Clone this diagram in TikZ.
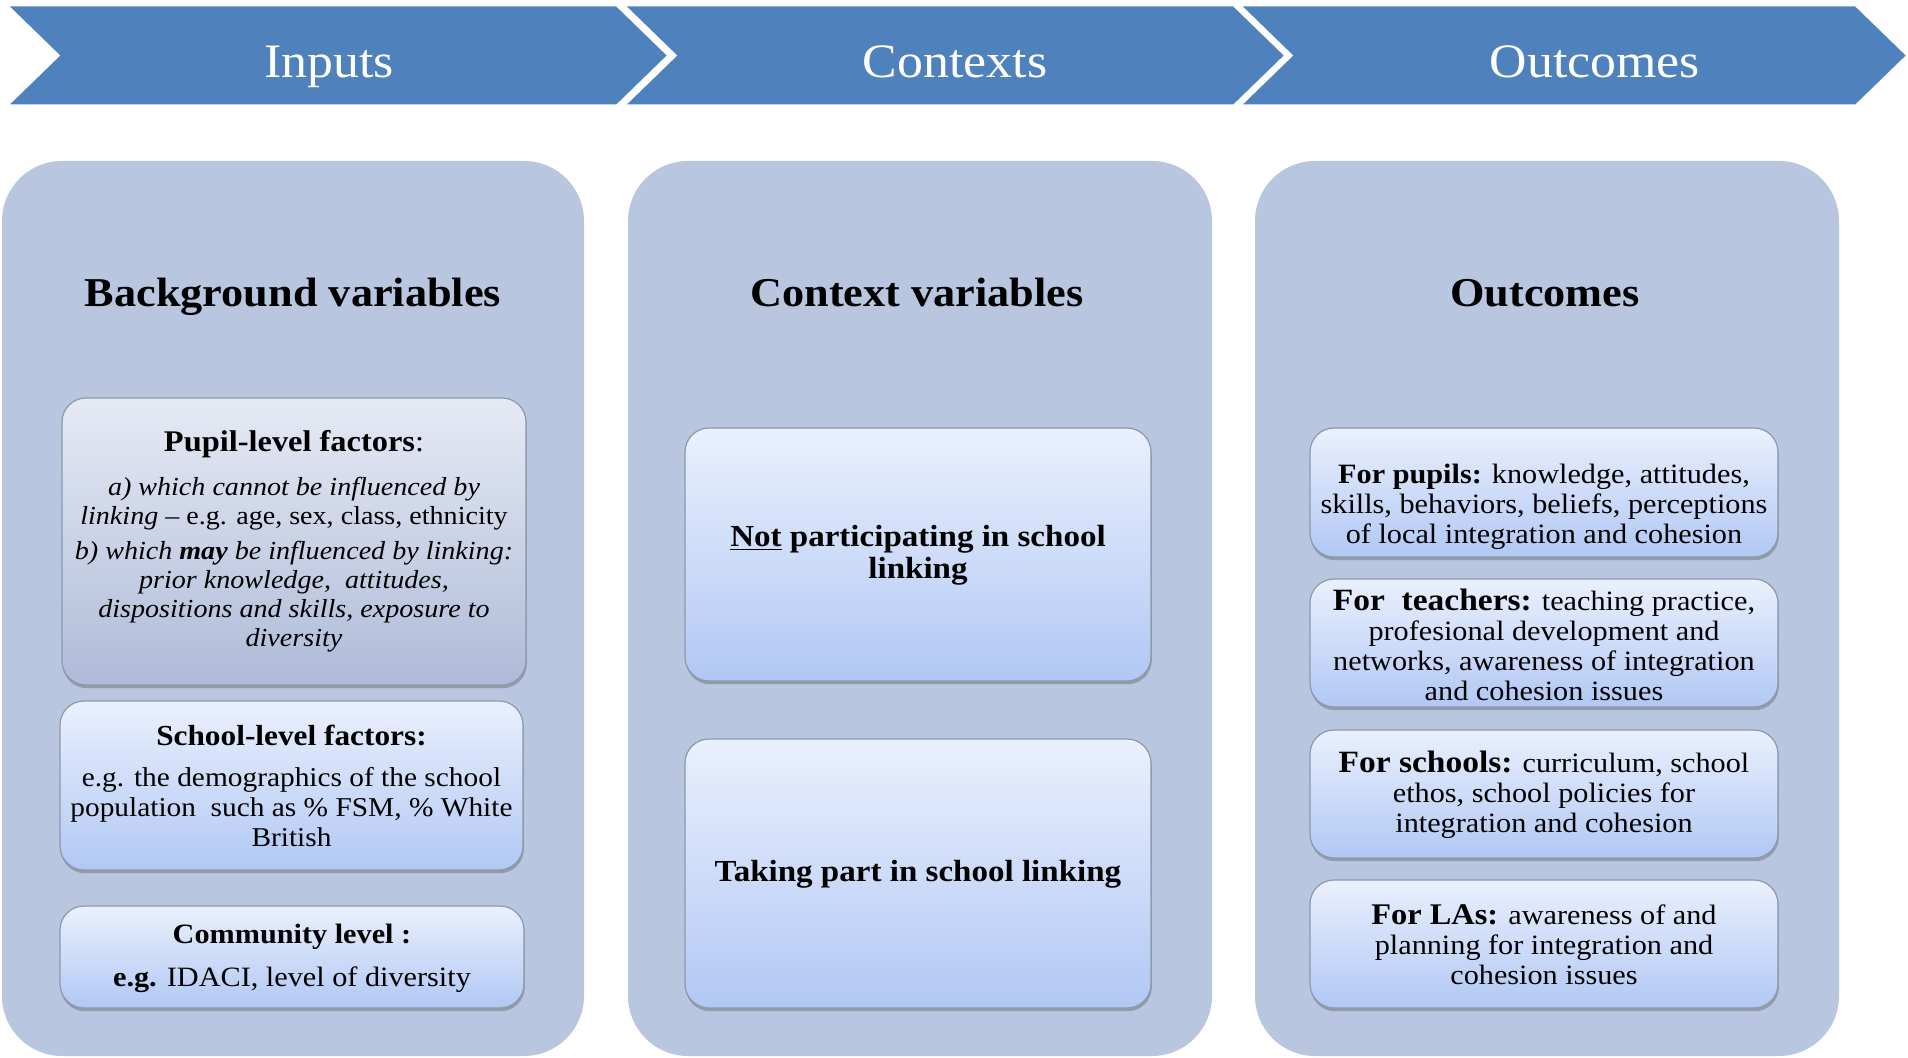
\documentclass[tikz,border=0pt]{standalone}
\usepackage{fontspec}
\setmainfont[FakeStretch=1.08]{Liberation Serif}
\usetikzlibrary{shadows}
\definecolor{chev}{HTML}{4F81BD}
\definecolor{panelc}{HTML}{B9C6DF}
\definecolor{itop}{HTML}{EAF0FD}
\definecolor{ibot}{HTML}{B1C8F4}
\definecolor{ptop}{HTML}{E6EAF4}
\definecolor{pbot}{HTML}{AEBBD8}
\definecolor{bordc}{HTML}{8C98AC}
\begin{document}
\begin{tikzpicture}[x=0.5pt,y=-0.5pt,
  chevron/.style={fill=chev, draw=white, line width=1.5pt, line join=miter},
  hdr/.style={text=white, anchor=base, font=\fontsize{24}{29}\selectfont},
  panel/.style={fill=panelc, draw=none, rounded corners=30pt, inner sep=0pt},
  ibox/.style={draw=bordc, line width=0.6pt, rounded corners=12pt, top color=itop, bottom color=ibot, inner sep=0pt,
    drop shadow={shadow xshift=0.4pt, shadow yshift=-1.6pt, opacity=0.35, fill=black!70}},
  pbox/.style={ibox, top color=ptop, bottom color=pbot},
  ttl/.style={anchor=base, font=\bfseries\fontsize{20.5}{24}\selectfont},
  body/.style={align=center, font=\fontsize{14}{15}\selectfont, inner sep=0pt},
  head/.style={align=center, font=\fontsize{14.5}{16}\selectfont, inner sep=0pt},
  big/.style={align=center, font=\bfseries\fontsize{15.3}{16}\selectfont, inner sep=0pt}
]
\useasboundingbox (0,0) rectangle (1908,1058);
% header chevrons
\fill[white] (0,0) rectangle (1908,1058);
\draw[chevron] (6,5) -- (617,5) -- (669,55.5) -- (617,106) -- (6,106) -- (58,55.5) -- cycle;
\draw[chevron] (623,5) -- (1234,5) -- (1286,55.5) -- (1234,106) -- (623,106) -- (675,55.5) -- cycle;
\draw[chevron] (1239,5) -- (1856,5) -- (1908,55.5) -- (1856,106) -- (1239,106) -- (1291,55.5) -- cycle;
\node[hdr] (hin) at (329,78) {Inputs};
\node[hdr] (hctx) at (955,78) {Contexts};
\node[hdr] (hout) at (1595,78) {Outcomes};
% panels
\node[panel, minimum width=291pt, minimum height=447.5pt] (p1) at (293,608.5) {};
\node[panel, minimum width=292pt, minimum height=447.5pt] (p2) at (920,608.5) {};
\node[panel, minimum width=292pt, minimum height=447.5pt] (p3) at (1547,608.5) {};
\node[ttl] (t1) at (293,307) {Background variables};
\node[ttl] (t2) at (917,307) {Context variables};
\node[ttl] (t3) at (1545,307) {Outcomes};
% panel 1 boxes
\node[pbox, minimum width=232pt, minimum height=143.5pt] (pupil) at (294,541.5) {};
\node[ibox, minimum width=231.5pt, minimum height=84.5pt] (school) at (291.5,785.5) {};
\node[ibox, minimum width=232pt, minimum height=51pt] (comm) at (292,957) {};
\node[head, font=\fontsize{15}{16}\selectfont] (pupilh) at (294,444) {\textbf{Pupil-level factors}:};
\node[body, font=\fontsize{13}{14.5}\selectfont] (pupilb) at (294,565) {\textit{a) which cannot be influenced by}\\ \textit{linking} – e.g. age, sex, class, ethnicity\\[3pt] \textit{b) which \textbf{may} be influenced by linking:}\\ \textit{prior knowledge,\ \ attitudes,}\\ \textit{dispositions and skills, exposure to}\\ \textit{diversity}};
\node[head] (schoolh) at (291.5,735) {\textbf{School-level factors:}};
\node[body, font=\fontsize{13.6}{15}\selectfont] (schoolb) at (291.5,807.5) {e.g. the demographics of the school\\ population\ \ such as \% FSM, \% White\\ British};
\node[head, font=\fontsize{14}{16}\selectfont] (commh) at (292,937) {\textbf{Community level :}};
\node[body] (commb) at (292,980) {\textbf{e.g.} IDACI, level of diversity};
% panel 2 boxes
\node[ibox, minimum width=233pt, minimum height=126.5pt] (notp) at (918,554.5) {};
\node[ibox, minimum width=233pt, minimum height=134.5pt] (takep) at (918,873.5) {};
\node[big] (notpt) at (918,555) {\underline{Not} participating in school\\ linking};
\node[big] (takept) at (918,874) {Taking part in school linking};
% panel 3 boxes
\node[ibox, minimum width=234pt, minimum height=64.5pt] (opup) at (1544,492.5) {};
\node[ibox, minimum width=234pt, minimum height=64pt] (otea) at (1544,643) {};
\node[ibox, minimum width=234pt, minimum height=64pt] (osch) at (1544,794) {};
\node[ibox, minimum width=234pt, minimum height=64pt] (olas) at (1544,944) {};
\node[body] (opupt) at (1544,506.5) {\textbf{For pupils:} knowledge, attitudes,\\ skills, behaviors, beliefs, perceptions\\ of local integration and cohesion};
\node[body] (oteat) at (1544,644.5) {{\bfseries\fontsize{15.5}{15}\selectfont For\ \ teachers:} teaching practice,\\ profesional development and\\ networks, awareness of integration\\ and cohesion issues};
\node[body] (oscht) at (1544,795) {{\bfseries\fontsize{15.5}{15}\selectfont For schools:} curriculum, school\\ ethos, school policies for\\ integration and cohesion};
\node[body] (olast) at (1544,944.5) {{\bfseries\fontsize{15}{15}\selectfont For LAs:} awareness of and\\ planning for integration and\\ cohesion issues};
\end{tikzpicture}
\end{document}
